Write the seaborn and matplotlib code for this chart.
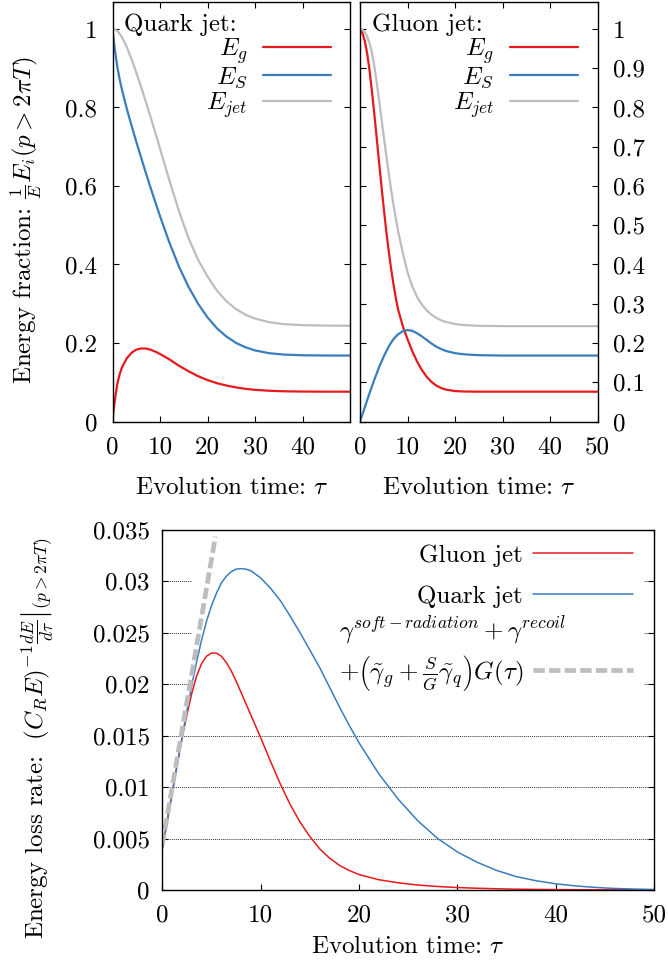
import numpy as np
import pandas as pd
import matplotlib
matplotlib.use("Agg")
import matplotlib.pyplot as plt
import seaborn as sns
from matplotlib.lines import Line2D
from matplotlib.patches import Rectangle

# ---------------- data ----------------
tau_q = [0, 0.25, 0.5, 1, 1.5, 2, 3, 4, 5, 6, 7, 8, 9, 10, 12, 14, 16, 18, 20,
         22, 24, 26, 28, 30, 33, 36, 40, 45, 50]
Eg_quark = [0, 0.03, 0.055, 0.095, 0.12, 0.138, 0.161, 0.175, 0.183, 0.186, 0.186,
            0.183, 0.178, 0.172, 0.158, 0.142, 0.128, 0.1155, 0.1055, 0.0975, 0.0915,
            0.0868, 0.0832, 0.0806, 0.0783, 0.077, 0.0763, 0.076, 0.076]
ES_quark = [1, 0.972, 0.947, 0.905, 0.872, 0.845, 0.797, 0.754, 0.713, 0.673, 0.634,
            0.596, 0.559, 0.523, 0.455, 0.394, 0.343, 0.300, 0.265, 0.237, 0.216,
            0.200, 0.189, 0.181, 0.174, 0.1705, 0.1687, 0.1681, 0.168]
Ejet_quark = [1, 0.9997, 0.999, 0.995, 0.988, 0.979, 0.954, 0.923, 0.889, 0.853, 0.815,
              0.776, 0.736, 0.695, 0.613, 0.535, 0.467, 0.412, 0.369, 0.333, 0.306,
              0.286, 0.272, 0.262, 0.253, 0.248, 0.2455, 0.2443, 0.244]

tau_g = [0, 0.5, 1, 1.5, 2, 2.5, 3, 3.5, 4, 4.5, 5, 5.5, 6, 6.5, 7, 7.5, 8, 9, 10,
         11, 12, 13, 14, 15, 16, 17, 18, 20, 22, 25, 30, 35, 40, 45, 50]
Eg_gluon = [1.0, 0.99, 0.97, 0.938, 0.895, 0.842, 0.785, 0.724, 0.662, 0.601, 0.543,
            0.488, 0.438, 0.393, 0.353, 0.317, 0.286, 0.243, 0.2095, 0.179, 0.153,
            0.1315, 0.1143, 0.1013, 0.0919, 0.0856, 0.0815, 0.0775, 0.0764, 0.076,
            0.076, 0.076, 0.076, 0.076, 0.076]
ES_gluon = [0, 0.018, 0.036, 0.054, 0.072, 0.089, 0.106, 0.122, 0.138, 0.152, 0.166,
            0.178, 0.19, 0.2, 0.209, 0.216, 0.222, 0.23, 0.233, 0.231, 0.225, 0.217,
            0.208, 0.199, 0.191, 0.185, 0.18, 0.174, 0.171, 0.169, 0.168, 0.168,
            0.168, 0.168, 0.168]
Ejet_gluon = [1.0, 0.998, 0.992, 0.981, 0.964, 0.94, 0.906, 0.865, 0.82, 0.773, 0.726,
              0.68, 0.636, 0.594, 0.555, 0.519, 0.486, 0.43, 0.38, 0.344, 0.317,
              0.298, 0.2835, 0.2725, 0.2643, 0.2582, 0.2538, 0.2482, 0.2455, 0.2438,
              0.243, 0.243, 0.243, 0.243, 0.243]

tau_r = [0, 0.5, 1, 1.5, 2, 2.5, 3, 3.5, 4, 4.5, 5, 5.5, 6, 6.5, 7, 7.5, 8, 8.5, 9,
         10, 11, 12, 13, 14, 15, 16, 17, 18, 19, 20, 22, 24, 26, 28, 30, 32, 34, 36,
         38, 40, 42, 44, 46, 48, 50]
rate_gluon = [0.0040, 0.0067, 0.0094, 0.0121, 0.0147, 0.0170, 0.0191, 0.0208, 0.0220,
              0.0227, 0.0230, 0.0230, 0.0227, 0.0221, 0.0213, 0.0203, 0.0192, 0.0181,
              0.0170, 0.0148, 0.0125, 0.0103, 0.0083, 0.0066, 0.0052, 0.0040, 0.0031,
              0.0024, 0.0019, 0.0015, 0.0010, 0.0007, 0.00048, 0.00034, 0.00024,
              0.00017, 0.00012, 0.00008, 0.00006, 0.00004, 0.00003, 0.00002, 0.00002,
              0.00001, 0.00001]
rate_quark = [0.0040, 0.0067, 0.0094, 0.0121, 0.0148, 0.0174, 0.0199, 0.0222, 0.0243,
              0.0261, 0.0276, 0.0288, 0.0298, 0.03045, 0.0309, 0.03115, 0.0312,
              0.03115, 0.0310, 0.0303, 0.0293, 0.0281, 0.0266, 0.0250, 0.0233, 0.0216,
              0.0197, 0.0178, 0.0160, 0.0143, 0.0113, 0.0088, 0.0067, 0.0050, 0.0037,
              0.0027, 0.0019, 0.0013, 0.0009, 0.0006, 0.0004, 0.00025, 0.00015,
              0.00009, 0.00005]
tau_G = [0, 5.4]
rate_G = [0.0044, 0.0343]

top_yticks = [0, 0.2, 0.4, 0.6, 0.8, 1]
top_ylabels = ["0", "0.2", "0.4", "0.6", "0.8", "1"]
right_yticks = [0, 0.1, 0.2, 0.3, 0.4, 0.5, 0.6, 0.7, 0.8, 0.9, 1]
right_ylabels = ["0", "0.1", "0.2", "0.3", "0.4", "0.5", "0.6", "0.7", "0.8", "0.9", "1"]
left_xticks = [0, 10, 20, 30, 40]
full_xticks = [0, 10, 20, 30, 40, 50]
bot_yticks = [0, 0.005, 0.01, 0.015, 0.02, 0.025, 0.03, 0.035]
bot_ylabels = ["0", "0.005", "0.01", "0.015", "0.02", "0.025", "0.03", "0.035"]

series_labels = [r"$E_g$", r"$E_S$", r"$E_{jet}$"]
jet_labels = ["Gluon jet", "Quark jet"]
gamma_line1 = r"$\gamma^{soft-radiation}+\gamma^{recoil}$"
gamma_line2 = r"$+\left(\tilde{\gamma}_g+\frac{S}{G}\tilde{\gamma}_q\right)G(\tau)$"

# ---------------- style ----------------
RED = "#e41a1c"
BLUE = "#3a7dbd"
GRAY = "#bdbdbd"
FS = 18

sns.set_style("ticks")
plt.rcParams.update({
    "font.family": ["cmr10", "DejaVu Serif"],
    "mathtext.fontset": "cm",
    "axes.unicode_minus": False,
    "axes.formatter.use_mathtext": True,
    "font.size": FS,
    "axes.edgecolor": "black",
    "axes.linewidth": 1.0,
    "xtick.direction": "in", "ytick.direction": "in",
    "xtick.top": True, "ytick.right": True,
    "xtick.major.size": 4.5, "ytick.major.size": 4.5,
    "xtick.major.width": 0.8, "ytick.major.width": 0.8,
    "xtick.color": "black", "ytick.color": "black",
    "text.color": "black", "axes.labelcolor": "black",
    "axes.axisbelow": True,
})

W, H = 668, 960
fig = plt.figure(figsize=(W / 100, H / 100), dpi=100)

def frac_rect(x0, x1, y0, y1):
    return [x0 / W, 1 - y1 / H, (x1 - x0) / W, (y1 - y0) / H]

ax1 = fig.add_axes(frac_rect(112.5, 350.2, 1.5, 421.5))
ax2 = fig.add_axes(frac_rect(360.0, 597.7, 1.5, 421.5))
ax3 = fig.add_axes(frac_rect(162.3, 654.0, 529.5, 890.0))

def line(ax, x, y, color, lw, **kw):
    sns.lineplot(x=x, y=y, ax=ax, color=color, lw=lw, estimator=None,
                 errorbar=None, legend=False, **kw)

# top-left: quark jet
line(ax1, tau_q, Eg_quark, RED, 1.6)
line(ax1, tau_q, ES_quark, BLUE, 1.6)
line(ax1, tau_q, Ejet_quark, GRAY, 1.6)
# top-right: gluon jet
line(ax2, tau_g, Eg_gluon, RED, 1.6)
line(ax2, tau_g, ES_gluon, BLUE, 1.6)
line(ax2, tau_g, Ejet_gluon, GRAY, 1.6)

for ax in (ax1, ax2):
    ax.set_xlim(0, 50)
    ax.set_ylim(0, 1.07)
    ax.set_xlabel(r"Evolution time: $\tau$", fontsize=FS, labelpad=13)
    ax.set_ylabel("")
    ax.tick_params(axis="x", pad=11, labelsize=FS)
    ax.tick_params(axis="y", pad=11, labelsize=FS)

ax1.set_xticks(left_xticks, [str(v) for v in left_xticks])
ax1.set_yticks(top_yticks, top_ylabels)
ax2.set_xticks(full_xticks, [str(v) for v in full_xticks])
ax2.set_yticks(right_yticks, right_ylabels)
ax2.tick_params(axis="y", left=True, right=True, labelleft=False, labelright=True)

ax1.set_ylabel(r"Energy fraction: $\frac{1}{E}E_i(p>2\pi T)$", fontsize=FS)
ax1.yaxis.set_label_coords(-0.29, 0.48)

handles_top = [Line2D([], [], color=RED, lw=1.6),
               Line2D([], [], color=BLUE, lw=1.6),
               Line2D([], [], color=GRAY, lw=1.6)]
ax1.text(0.05, 0.93, "Quark jet:", transform=ax1.transAxes, fontsize=FS,
         ha="left", va="baseline")
ax2.text(0.052, 0.93, "Gluon jet:", transform=ax2.transAxes, fontsize=FS,
         ha="left", va="baseline")
for ax, xr in ((ax1, 0.919), (ax2, 0.916)):
    ax.legend(handles_top, series_labels, loc="upper right",
              bbox_to_anchor=(xr, 0.918), frameon=False, markerfirst=False,
              handlelength=2.7, handletextpad=0.64, labelspacing=0.0,
              borderpad=0, borderaxespad=0, fontsize=FS)

# bottom panel
ax3.yaxis.grid(True, linestyle=(0, (1, 1)), color="#333333", lw=0.7)
ax3.add_patch(Rectangle((0.06, 0.543), 0.92, 0.457, transform=ax3.transAxes,
                        facecolor="white", edgecolor="none", zorder=1))
line(ax3, tau_r, rate_gluon, RED, 1.1)
line(ax3, tau_r, rate_quark, BLUE, 1.1)
DASH = (0, (2.4, 0.9))
sns.lineplot(x=tau_G, y=rate_G, ax=ax3, color=GRAY, lw=3.4, estimator=None,
             errorbar=None, legend=False, linestyle=DASH,
             solid_capstyle="butt", dash_capstyle="butt")
ax3.set_xlim(0, 50)
ax3.set_ylim(0, 0.035)
ax3.set_xticks(full_xticks, [str(v) for v in full_xticks])
ax3.set_yticks(bot_yticks, bot_ylabels)
ax3.tick_params(axis="x", pad=10, labelsize=FS)
ax3.tick_params(axis="y", pad=9, labelsize=FS)
ax3.set_xlabel(r"Evolution time: $\tau$", fontsize=FS, labelpad=7)
ax3.set_ylabel(r"Energy loss rate:  $\left.(C_R E)^{-1}\frac{dE}{d\tau}\right|{}_{(p>2\pi T)}$",
               fontsize=FS)
ax3.yaxis.set_label_coords(-0.215, 0.423)

handles_jets = [Line2D([], [], color=RED, lw=1.1),
                Line2D([], [], color=BLUE, lw=1.1)]
legA = ax3.legend(handles_jets, jet_labels, loc="upper right",
                  bbox_to_anchor=(0.957, 0.958), frameon=False, markerfirst=False,
                  handlelength=4.0, handletextpad=0.4, labelspacing=0.73,
                  borderpad=0, borderaxespad=0, fontsize=FS)
legA.set_zorder(5)
ax3.add_artist(legA)
legB = ax3.legend([Line2D([], [], color=GRAY, lw=3.4, linestyle=DASH,
                          dash_capstyle="butt")], [gamma_line2],
                  loc="center right", bbox_to_anchor=(0.957, 0.602),
                  frameon=False, markerfirst=False, handlelength=4.0,
                  handletextpad=0.4, borderpad=0, borderaxespad=0, fontsize=FS)
legB.set_zorder(5)
ax3.text(0.823, 0.699, gamma_line1, transform=ax3.transAxes, fontsize=FS,
         ha="right", va="baseline", zorder=5)

fig.savefig("out.png", dpi=100)
